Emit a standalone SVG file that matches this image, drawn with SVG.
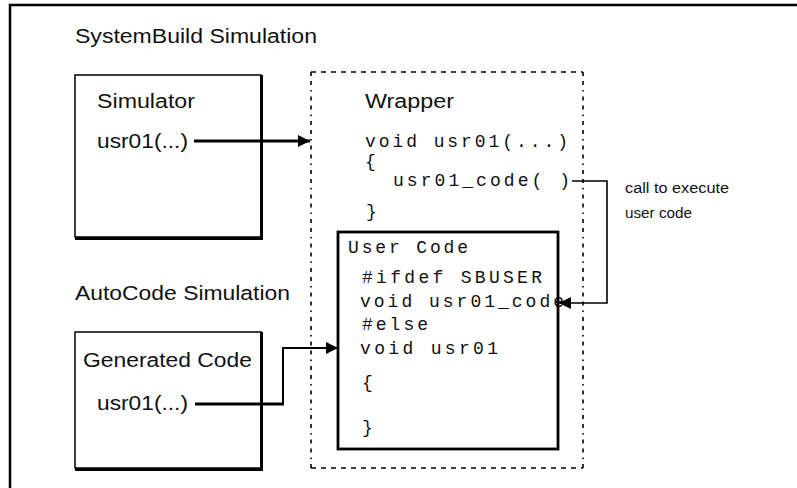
<svg xmlns="http://www.w3.org/2000/svg" width="797" height="488" viewBox="0 0 797 488">
<style>
.sans{font-family:"Liberation Sans",Arial,sans-serif;fill:#111;}
.mono{font-family:"Liberation Mono","Courier New",monospace;fill:#111;font-size:18px;}
.lbl{font-size:20px;}
.small{font-size:14px;}
.box{fill:#fff;stroke:#000;stroke-width:1.5;}
.shadow{fill:none;stroke:#000;stroke-width:3;}
.dash{fill:none;stroke:#000;stroke-width:1.6;stroke-dasharray:5,5;}
.dashv{fill:none;stroke:#000;stroke-width:1.6;stroke-dasharray:4,5,4,5,1.5,5;}
.conn{fill:none;stroke:#000;}
</style>
<defs>
<marker id="ah" markerUnits="userSpaceOnUse" markerWidth="12" markerHeight="12" viewBox="0 0 12 12" refX="12" refY="6" orient="auto">
<path d="M0,0 L12,6 L0,12 z" fill="#000"/>
</marker>
</defs>
<rect width="797" height="488" fill="#fff"/>
<path d="M10,490 V5 H800" fill="none" stroke="#000" stroke-width="2.5"/>
<text class="sans lbl" x="75" y="43" textLength="242" lengthAdjust="spacingAndGlyphs">SystemBuild Simulation</text>
<text class="sans lbl" x="75" y="300" textLength="215" lengthAdjust="spacingAndGlyphs">AutoCode Simulation</text>

<g id="simulator">
<rect class="box" x="75" y="75" width="186" height="162"/>
<path class="shadow" d="M261.5,75 V238.5 H75"/>
<text class="sans lbl" x="97" y="108" textLength="98" lengthAdjust="spacingAndGlyphs">Simulator</text>
<text class="sans lbl" x="97" y="148" textLength="91" lengthAdjust="spacingAndGlyphs">usr01(...)</text>
</g>

<g id="generated-code">
<rect class="box" x="75" y="332" width="186" height="136"/>
<path class="shadow" d="M261.5,332 V469.5 H75"/>
<text class="sans lbl" x="83" y="367" textLength="169" lengthAdjust="spacingAndGlyphs">Generated Code</text>
<text class="sans lbl" x="97" y="410" textLength="91" lengthAdjust="spacingAndGlyphs">usr01(...)</text>
</g>

<g id="wrapper">
<path class="dash" d="M311,72 H583"/>
<path class="dash" d="M311,468 H583"/>
<path class="dashv" d="M311,72 V468"/>
<path class="dashv" d="M583,72 V468"/>
<text class="sans lbl" x="365" y="108" textLength="89" lengthAdjust="spacingAndGlyphs">Wrapper</text>
<text class="mono" x="365" y="147" textLength="203" lengthAdjust="spacing">void usr01(...)</text>
<text class="mono" x="365" y="167">{</text>
<text class="mono" x="393" y="186" textLength="177" lengthAdjust="spacing">usr01_code( )</text>
<text class="mono" x="366" y="217">}</text>
</g>

<g id="user-code">
<rect x="338" y="232" width="220" height="217" fill="#fff" stroke="#000" stroke-width="2.8"/>
<text class="mono" x="348" y="253" textLength="120" lengthAdjust="spacing">User Code</text>
<text class="mono" x="362" y="283" textLength="180" lengthAdjust="spacing">#ifdef SBUSER</text>
<text class="mono" x="360" y="307" textLength="204" lengthAdjust="spacing">void usr01_code</text>
<text class="mono" x="362" y="330" textLength="66" lengthAdjust="spacing">#else</text>
<text class="mono" x="360" y="354" textLength="138" lengthAdjust="spacing">void usr01</text>
<text class="mono" x="362" y="388">{</text>
<text class="mono" x="362" y="433">}</text>
</g>

<g id="call-label">
<text class="sans small" x="625" y="193" textLength="104" lengthAdjust="spacingAndGlyphs">call to execute</text>
<text class="sans small" x="625" y="218" textLength="67" lengthAdjust="spacingAndGlyphs">user code</text>
</g>

<g id="connectors">
<path class="conn" stroke-width="3" d="M194,141 H310" marker-end="url(#ah)"/>
<path class="conn" stroke-width="3" d="M195,404 H284"/>
<path class="conn" stroke-width="2" d="M283,405 V348 H338" marker-end="url(#ah)"/>
<path class="conn" stroke-width="1.6" d="M572,181 H607 V303 H559" marker-end="url(#ah)"/>
</g>
</svg>
